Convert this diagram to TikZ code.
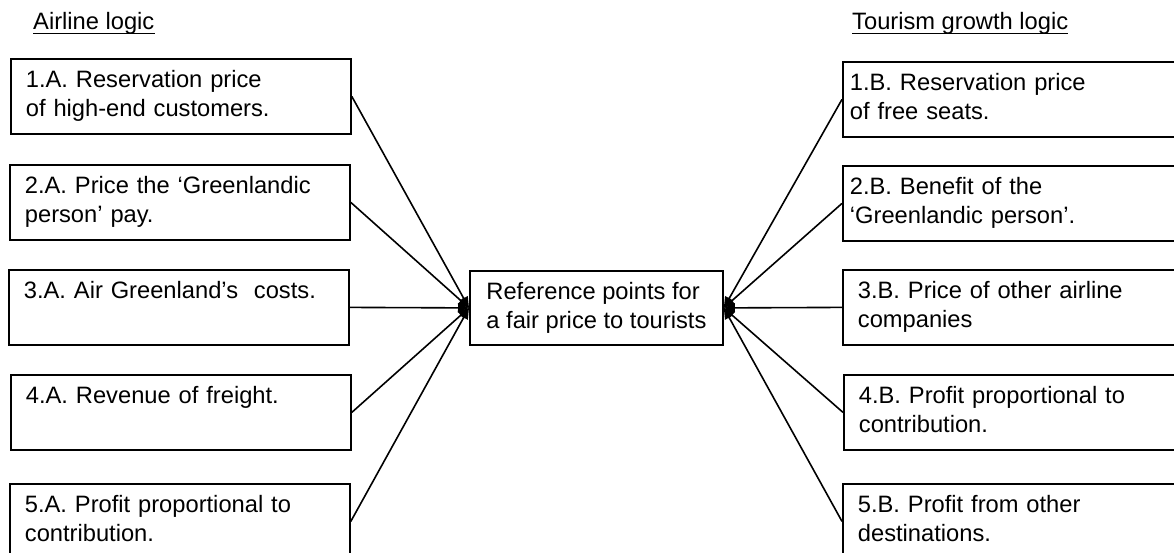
\documentclass[tikz,border=0pt]{standalone}
\usepackage{fontspec}
\setmainfont{Liberation Sans}
\usetikzlibrary{arrows.meta}
\newcommand\boxfont{\fontsize{23.7pt}{29pt}\selectfont}
\tikzset{
  boxnode/.style={draw, line width=1.8pt, minimum height=75pt, inner xsep=15pt, inner ysep=0pt,
    text width=310pt, align=left, anchor=north west, font=\boxfont},
  narrowpad/.style={inner xsep=7pt, text width=326pt},
  centerbox/.style={draw, line width=1.8pt, minimum height=74pt, minimum width=253pt, inner xsep=10pt, inner ysep=0pt,
    align=left, anchor=north west, font=\boxfont},
  titlenode/.style={inner sep=0pt, anchor=base west, font=\boxfont},
  uline/.style={line width=1.4pt},
  conn/.style={line width=1.6pt, -{Triangle[length=11pt,width=9pt]}}
}
\begin{document}
\begin{tikzpicture}[x=1pt,y=-1pt]
\clip (0,0) rectangle (1174,553);
\fill[white] (0,0) rectangle (1174,553);
% titles
\node[titlenode] (tA) at (33,30) {Airline logic};
\node[titlenode] (tB) at (852,30) {Tourism growth logic};
\draw[uline] ([yshift=-3.5pt]tA.base west) -- ([yshift=-3.5pt]tA.base east);
\draw[uline] ([yshift=-3.5pt]tB.base west) -- ([yshift=-3.5pt]tB.base east);
% left boxes
\node[boxnode] (a1) at (10,58)  {\strut 1.A. Reservation price\\of high-end customers.\strut};
\node[boxnode] (a2) at (9,164)  {\strut 2.A. Price the ‘Greenlandic\\person’ pay.\strut};
\node[boxnode] (a3) at (8,269)  {\strut 3.A. Air Greenland’s~ costs.\\\strut};
\node[boxnode] (a4) at (10,374) {\strut 4.A. Revenue of freight.\\\strut};
\node[boxnode] (a5) at (9,483)  {\strut 5.A. Profit proportional to\\contribution.\strut};
% right boxes
\node[boxnode,narrowpad] (b1) at (842,61)  {\strut 1.B. Reservation price\\of free seats.\strut};
\node[boxnode,narrowpad] (b2) at (842,165) {\strut 2.B. Benefit of the\\‘Greenlandic person’.\strut};
\node[boxnode] (b3) at (842,269) {\strut 3.B. Price of other airline\\companies\strut};
\node[boxnode] (b4) at (843,374) {\strut 4.B. Profit proportional to\\contribution.\strut};
\node[boxnode] (b5) at (842,483) {\strut 5.B. Profit from other\\destinations.\strut};
% centre
\node[centerbox] (c) at (469,270) {\strut Reference points for\\a fair price to tourists\strut};
% connectors
\foreach \n in {a1,a2,a3,a4,a5} \draw[conn] (\n.east) -- (c.west);
\foreach \n in {b1,b2,b3,b4,b5} \draw[conn] (\n.west) -- (c.east);
\end{tikzpicture}
\end{document}
